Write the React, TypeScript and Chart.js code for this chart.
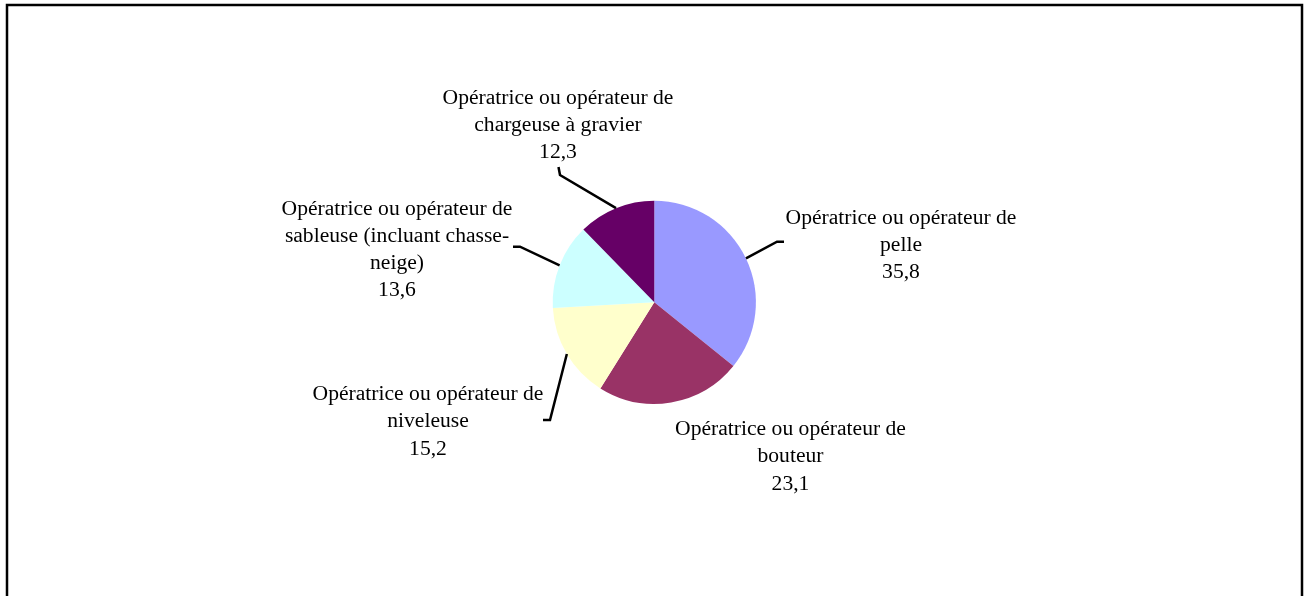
import React, { useEffect, useRef } from "react";
import { Chart, registerables } from "chart.js";

Chart.register(...registerables);

const categories: string[] = [
  "Opératrice ou opérateur de pelle",
  "Opératrice ou opérateur de bouteur",
  "Opératrice ou opérateur de niveleuse",
  "Opératrice ou opérateur de sableuse (incluant chasse-neige)",
  "Opératrice ou opérateur de chargeuse à gravier",
];
const values: number[] = [35.8, 23.1, 15.2, 13.6, 12.3];
const valueLabels: string[] = ["35,8", "23,1", "15,2", "13,6", "12,3"];
const labelLines: string[][] = [
  ["Opératrice ou opérateur de", "pelle"],
  ["Opératrice ou opérateur de", "bouteur"],
  ["Opératrice ou opérateur de", "niveleuse"],
  ["Opératrice ou opérateur de", "sableuse (incluant chasse-", "neige)"],
  ["Opératrice ou opérateur de", "chargeuse à gravier"],
];
const colors: string[] = ["#9999FF", "#993366", "#FFFFCC", "#CCFFFF", "#660066"];

// label layout: center x, first baseline y, leader points (elbow, end) or null
const labelPos: { x: number; y: number; leader: [number, number][] | null }[] = [
  { x: 901, y: 223.5, leader: [[777, 241.7], [784, 241.7]] },
  { x: 790.5, y: 435, leader: null },
  { x: 428, y: 400, leader: [[550, 420], [543, 420]] },
  { x: 397, y: 214.5, leader: [[520, 246.7], [513, 246.7]] },
  { x: 558, y: 103.5, leader: [[560, 175], [558.5, 167]] },
];
const LINE_H = 27.3;

const labelPlugin = {
  id: "pieLabels",
  afterDraw(chart: any) {
    const ctx: CanvasRenderingContext2D = chart.ctx;
    ctx.save();
    // frame
    ctx.strokeStyle = "#000";
    ctx.lineWidth = 2.5;
    ctx.strokeRect(7, 5, 1295, 620);

    const meta = chart.getDatasetMeta(0);
    meta.data.forEach((arc: any, i: number) => {
      const p = labelPos[i];
      if (p.leader) {
        const mid = (arc.startAngle + arc.endAngle) / 2;
        const sx = arc.x + Math.cos(mid) * arc.outerRadius;
        const sy = arc.y + Math.sin(mid) * arc.outerRadius;
        ctx.beginPath();
        ctx.moveTo(sx, sy);
        p.leader.forEach(([lx, ly]) => ctx.lineTo(lx, ly));
        ctx.strokeStyle = "#000";
        ctx.lineWidth = 2.5;
        ctx.stroke();
      }
      ctx.fillStyle = "#000";
      ctx.font = '21.6px "Liberation Serif", "Times New Roman", serif';
      ctx.textAlign = "center";
      ctx.textBaseline = "alphabetic";
      const lines = [...labelLines[i], valueLabels[i]];
      lines.forEach((t, k) => ctx.fillText(t, p.x, p.y + k * LINE_H));
    });
    ctx.restore();
  },
};

export default function App() {
  const ref = useRef<HTMLCanvasElement | null>(null);
  useEffect(() => {
    document.body.style.margin = "0";
    const chart = new Chart(ref.current!, {
      type: "pie",
      data: {
        labels: categories,
        datasets: [
          {
            data: values,
            backgroundColor: colors,
            borderWidth: 0,
          },
        ],
      },
      options: {
        animation: false,
        responsive: false,
        layout: { padding: { top: 200.7, bottom: 192.1, left: 354.3, right: 349.7 } },
        plugins: { legend: { display: false }, tooltip: { enabled: false } },
      },
      plugins: [labelPlugin],
    });
    return () => chart.destroy();
  }, []);
  return (
    <div style={{ position: "absolute", left: 0, top: 0, width: 1304, height: 596, background: "#fff" }}>
      <canvas ref={ref} width={1304} height={596} style={{ width: 1304, height: 596 }} />
    </div>
  );
}
